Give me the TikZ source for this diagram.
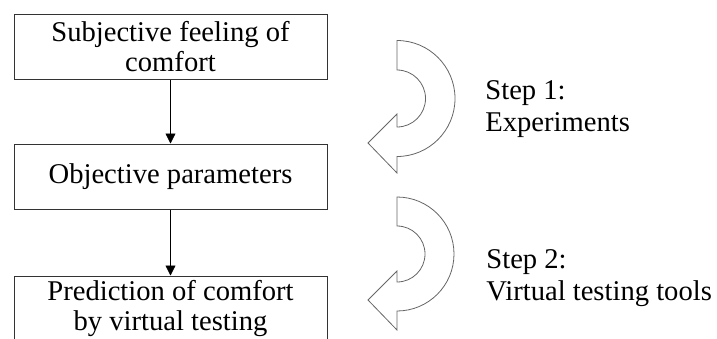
\documentclass[tikz,border=0pt]{standalone}
\usepackage{fontspec}
\setmainfont{Liberation Serif}
\usetikzlibrary{arrows.meta}
\usetikzlibrary{positioning}

\begin{document}
\begin{tikzpicture}[>={Triangle[width=5pt,length=5pt]}, x=0.5pt, y=-0.5pt]
  \tikzset{stage/.style={rectangle, draw=black!80, line width=0.5pt, minimum width=156.5pt, minimum height=32.5pt, inner sep=0pt, align=center, font=\fontsize{14.3}{15}\selectfont}}
  \tikzset{steplabel/.style={anchor=west, inner sep=0pt, align=left, font=\fontsize{14.3}{16}\selectfont}}
  \tikzset{turn/.style={draw=black!60, line width=0.4pt, fill=white}}

  \useasboundingbox (0,0) rectangle (717,338);
  \clip (0,0) rectangle (717,338);

  %--- stages ---
  \node[stage] (subj) at (170.5,46.5)  {Subjective feeling of\\comfort};
  \node[stage] (obj)  at (170.5,176.5) {Objective parameters};
  \node[stage] (pred) at (170.5,308.5) {Prediction of comfort\\by virtual testing};

  % subj -> obj -> pred
  \draw[->] (subj) -- (obj);
  \draw[->] (obj) -- (pred);

  %--- turning arrows ---
  % step 1
  \draw[turn] (397,40.5) arc[start angle=-90, end angle=90, radius=58]
    -- (397,173) -- (368,143) -- (397,114) -- (397,127)
    arc[start angle=90, end angle=-90, radius=28.5] -- cycle;
  % step 2
  \draw[turn] (397,197) arc[start angle=-90, end angle=90, radius=57]
    -- (397,330) -- (368,300) -- (397,271) -- (397,282)
    arc[start angle=90, end angle=-90, radius=28] -- cycle;

  %--- labels ---
  \node[steplabel] (step1) at (485,109.3) {Step 1:\\Experiments};
  \node[steplabel] (step2) at (486,278.3) {Step 2:\\Virtual testing tools};
\end{tikzpicture}
\end{document}
